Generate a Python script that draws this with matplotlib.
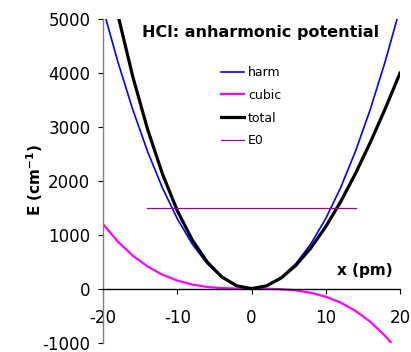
import matplotlib as mpl
mpl.use('Agg')
import matplotlib.pyplot as plt

# values (x in pm, energies in cm^-1)
x_pm = [-20, -18, -16, -14, -12, -10, -8, -6, -4, -2, 0,
        2, 4, 6, 8, 10, 12, 14, 16, 18, 20]
harm = [5200, 4212, 3328, 2548, 1872, 1300, 832, 468, 208, 52, 0,
        52, 208, 468, 832, 1300, 1872, 2548, 3328, 4212, 5200]
cubic = [1200, 875, 614, 412, 259, 150, 77, 32, 10, 1, 0,
         -1, -10, -32, -77, -150, -259, -412, -614, -875, -1200]
total = [6400, 5087, 3942, 2960, 2131, 1450, 909, 500, 218, 53, 0,
         51, 198, 436, 755, 1150, 1613, 2136, 2714, 3337, 4000]
e0_x = [-14.1, 14.1]
e0_y = [1490, 1490]

x_ticks = [-20, -10, 0, 10, 20]
y_ticks = [-1000, 0, 1000, 2000, 3000, 4000, 5000]

plt.rcParams['axes.unicode_minus'] = False
plt.rcParams['font.family'] = 'DejaVu Sans'

W, H = 411, 352
fig = plt.figure(figsize=(W / 100, H / 100), dpi=100)
ax = fig.add_axes([103 / W, 9.5 / H, 297 / W, 323.2 / H])

ax.plot(x_pm, harm, color='#0000ff', lw=1.2, label='harm')
ax.plot(x_pm, cubic, color='#ff00ff', lw=1.6, label='cubic')
ax.plot(x_pm, total, color='black', lw=2.3, label='total')
ax.plot(e0_x, e0_y, color='#990099', lw=0.9, label='E0')

ax.set_xlim(-20, 20)
ax.set_ylim(-1000, 5000)
ax.set_xticks(x_ticks)
ax.set_yticks(y_ticks)

ax.spines['top'].set_visible(False)
ax.spines['right'].set_visible(False)
ax.spines['left'].set_color('#808080')
ax.spines['left'].set_linewidth(1.0)
ax.spines['bottom'].set_position(('data', 0))
ax.spines['bottom'].set_color('black')
ax.spines['bottom'].set_linewidth(1.0)

ax.tick_params(axis='y', direction='out', length=3.6, width=0.8,
               color='black', pad=5.5, labelsize=12)
ax.tick_params(axis='x', direction='out', length=3.6, width=0.8,
               color='black', pad=11, labelsize=12)

fig.text(35 / W, 1 - 180 / H, r'E (cm$^{\mathbf{-1}}$)',
         rotation=90, ha='center', va='center', fontsize=11, fontweight='bold')
fig.text(365 / W, 1 - 271 / H, 'x (pm)',
         ha='center', va='center', fontsize=11, fontweight='bold')
fig.text(261 / W, 1 - 32.2 / H, 'HCl: anharmonic potential',
         ha='center', va='center', fontsize=11.5, fontweight='bold')

ax.legend(loc='upper left', bbox_to_anchor=(220.7 / W, 1 - 66 / H),
          bbox_transform=fig.transFigure, frameon=False, fontsize=9,
          handlelength=1.85, handletextpad=0.35, labelspacing=0.78,
          borderpad=0, borderaxespad=0)

fig.savefig('out.png', dpi=100)
